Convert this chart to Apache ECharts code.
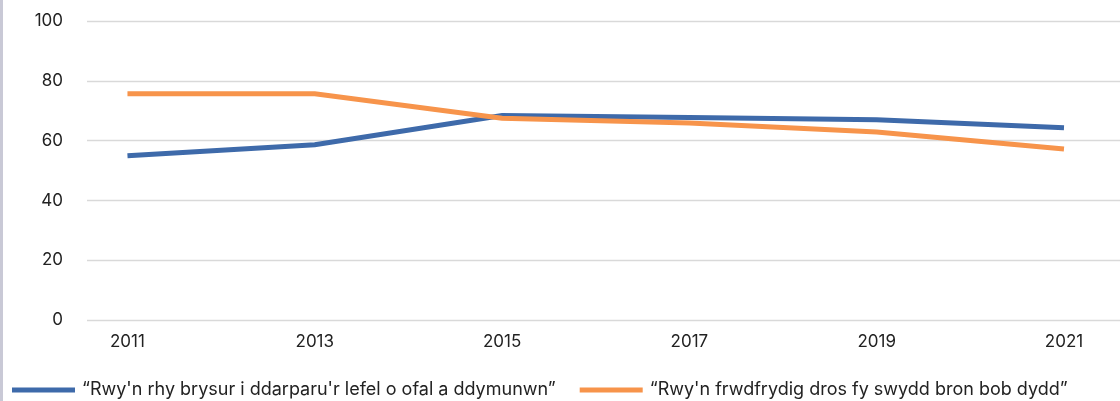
<!DOCTYPE html>
<html>
<head>
<meta charset="utf-8">
<script src="https://cdn.jsdelivr.net/npm/echarts@6/dist/echarts.min.js"></script>
<style>
html,body{margin:0;padding:0;background:#fff;}
#c{width:1120px;height:401px;}
</style>
</head>
<body>
<div id="c"></div>
<script>
const years = [2011, 2013, 2015, 2017, 2019, 2021];
const busySeries = [54.9, 58.6, 68.4, 67.7, 67.0, 64.3];
const enthusiasticSeries = [75.7, 75.7, 67.5, 65.9, 62.9, 57.2];
const seriesNames = [
  "\u201cRwy'n rhy brysur i ddarparu'r lefel o ofal a ddymunwn\u201d",
  "\u201cRwy'n frwdfrydig dros fy swydd bron bob dydd\u201d"
];
const yMin = 0, yMax = 100, yStep = 20;

const FONT = 'Inter, "Noto Sans", sans-serif';
const chart = echarts.init(document.getElementById('c'), null, {renderer: 'canvas'});
chart.setOption({
  animation: false,
  backgroundColor: '#ffffff',
  textStyle: {fontFamily: FONT},
  graphic: [{
    type: 'rect', left: 0, top: 0,
    shape: {x: 0, y: 0, width: 3, height: 401},
    style: {fill: '#c9c9d6'}, silent: true
  }],
  grid: {left: 87, right: 0, top: 21, bottom: 81, containLabel: false},
  legend: {
    left: 12, top: 381, padding: 0,
    itemWidth: 63, itemHeight: 5, itemGap: 24,
    icon: 'rect',
    textStyle: {fontFamily: FONT, fontSize: 18, color: '#222', padding: [0, 0, 0, 2]},
    data: seriesNames
  },
  xAxis: {
    type: 'value',
    min: 2010.568, max: 2021.598,
    axisLine: {show: false}, axisTick: {show: false}, splitLine: {show: false},
    axisLabel: {
      customValues: years,
      showMinLabel: true, showMaxLabel: true, hideOverlap: false,
      formatter: v => String(v),
      fontFamily: FONT, fontSize: 17, color: '#222', margin: 13
    }
  },
  yAxis: {
    type: 'value', min: yMin, max: yMax, interval: yStep,
    axisLine: {show: false}, axisTick: {show: false},
    splitLine: {lineStyle: {color: '#d9d9d9', width: 1.3}},
    axisLabel: {fontFamily: FONT, fontSize: 17, color: '#222', margin: 24}
  },
  series: [
    {
      name: seriesNames[0], type: 'line', showSymbol: false, symbol: 'none',
      data: years.map((y, i) => [y, busySeries[i]]),
      lineStyle: {color: '#3e6aaa', width: 5, cap: 'butt', join: 'miter'},
      itemStyle: {color: '#3e6aaa'}
    },
    {
      name: seriesNames[1], type: 'line', showSymbol: false, symbol: 'none',
      data: years.map((y, i) => [y, enthusiasticSeries[i]]),
      lineStyle: {color: '#f7944b', width: 5, cap: 'butt', join: 'miter'},
      itemStyle: {color: '#f7944b'}
    }
  ]
});
</script>
</body>
</html>
